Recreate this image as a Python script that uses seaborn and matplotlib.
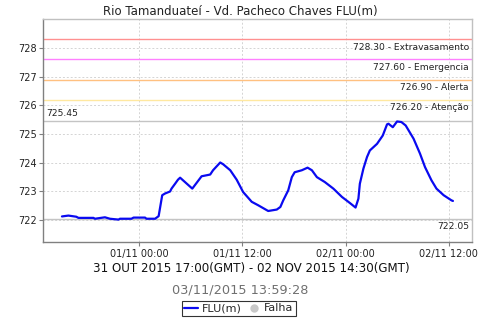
import matplotlib
matplotlib.use("Agg")
import matplotlib.pyplot as plt
import matplotlib.dates as mdates
from matplotlib.lines import Line2D
import seaborn as sns
import pandas as pd

# ---- data ----
times = [
    "2015-10-31 15:00", "2015-10-31 15:45", "2015-10-31 16:40", "2015-10-31 16:55",
    "2015-10-31 18:40", "2015-10-31 18:50", "2015-10-31 20:00", "2015-10-31 20:35",
    "2015-10-31 21:35", "2015-10-31 21:45", "2015-10-31 23:05", "2015-10-31 23:20",
    "2015-11-01 00:40", "2015-11-01 00:50", "2015-11-01 01:50", "2015-11-01 02:15",
    "2015-11-01 02:40", "2015-11-01 03:00", "2015-11-01 03:35", "2015-11-01 03:45",
    "2015-11-01 04:10", "2015-11-01 04:30", "2015-11-01 04:45", "2015-11-01 06:10",
    "2015-11-01 07:15", "2015-11-01 08:15", "2015-11-01 08:35", "2015-11-01 09:25",
    "2015-11-01 09:45", "2015-11-01 10:35", "2015-11-01 11:20", "2015-11-01 12:05",
    "2015-11-01 13:05", "2015-11-01 13:50", "2015-11-01 15:00", "2015-11-01 16:00",
    "2015-11-01 16:25", "2015-11-01 16:45", "2015-11-01 17:20", "2015-11-01 17:45",
    "2015-11-01 18:05", "2015-11-01 18:55", "2015-11-01 19:35", "2015-11-01 20:05",
    "2015-11-01 20:40", "2015-11-01 21:35", "2015-11-01 22:35", "2015-11-01 23:35",
    "2015-11-02 00:30", "2015-11-02 01:10", "2015-11-02 01:30", "2015-11-02 01:40",
    "2015-11-02 02:05", "2015-11-02 02:30", "2015-11-02 02:50", "2015-11-02 03:40",
    "2015-11-02 04:20", "2015-11-02 04:50", "2015-11-02 05:00", "2015-11-02 05:30",
    "2015-11-02 06:00", "2015-11-02 06:30", "2015-11-02 07:00", "2015-11-02 07:55",
    "2015-11-02 08:40", "2015-11-02 09:15", "2015-11-02 10:00", "2015-11-02 10:35",
    "2015-11-02 11:25", "2015-11-02 12:20", "2015-11-02 12:30",
]
flu = [
    722.13, 722.16, 722.12, 722.08,
    722.08, 722.05, 722.10, 722.05,
    722.02, 722.05, 722.05, 722.09,
    722.09, 722.05, 722.05, 722.14,
    722.87, 722.93, 723.00, 723.10,
    723.27, 723.41, 723.48, 723.10,
    723.53, 723.59, 723.74, 724.01,
    723.95, 723.74, 723.41, 722.98,
    722.64, 722.52, 722.32, 722.37,
    722.46, 722.69, 723.04, 723.50,
    723.67, 723.74, 723.83, 723.74,
    723.50, 723.33, 723.10, 722.81,
    722.60, 722.44, 722.75, 723.27,
    723.80, 724.20, 724.43, 724.66,
    724.95, 725.34, 725.36, 725.24,
    725.44, 725.42, 725.30, 724.84,
    724.32, 723.85, 723.39, 723.10,
    722.87, 722.69, 722.67,
]

thresholds = [728.30, 727.60, 726.90, 726.20]
threshold_names = ["Extravasamento", "Emergencia", "Alerta", "Atenção"]
threshold_colors = ["#FF9090", "#FF80FF", "#FFC080", "#FFE8A0"]
max_value = 725.45
min_value = 722.05

tick_times = ["2015-11-01 00:00", "2015-11-01 12:00", "2015-11-02 00:00", "2015-11-02 12:00"]
y_ticks = [722, 723, 724, 725, 726, 727, 728]

title = "Rio Tamanduateí - Vd. Pacheco Chaves FLU(m)"
period = "31 OUT 2015 17:00(GMT) - 02 NOV 2015 14:30(GMT)"
stamp = "03/11/2015 13:59:28"

# ---- plot ----
sns.set_theme(style="white")
plt.rcParams["font.family"] = ["DejaVu Sans"]

df = pd.DataFrame({"time": pd.to_datetime(times), "FLU(m)": flu})

fig = plt.figure(figsize=(4.8, 3.2), dpi=100)
ax = fig.add_axes([0.0906, 0.2447, 0.8927, 0.695])

ax.grid(True, color="#D4D4D4", linestyle=(0, (2, 2)), linewidth=0.7)
ax.set_axisbelow(True)

for v, c in zip(thresholds, threshold_colors):
    ax.axhline(v, color=c, linewidth=1.0, zorder=2)
ax.axhline(max_value, color="#C4C4C4", linewidth=1.0, zorder=2)
ax.axhline(min_value, color="#C4C4C4", linewidth=1.0, zorder=2)

sns.lineplot(data=df, x="time", y="FLU(m)", ax=ax, color="#0A0AF0",
             linewidth=1.6, zorder=3, legend=False)

xmin = pd.Timestamp("2015-10-31 12:51")
xmax = pd.Timestamp("2015-11-02 14:43")
ax.set_xlim(xmin, xmax)
ax.set_ylim(721.25, 729.0)

ax.set_xticks(pd.to_datetime(tick_times))
ax.xaxis.set_major_formatter(mdates.DateFormatter("%d/%m %H:%M"))
ax.set_yticks(y_ticks)
ax.tick_params(axis="both", labelsize=7, length=3, width=0.8, color="#808080",
               labelcolor="#222222", pad=2, direction="out")
ax.tick_params(axis="x", pad=2)
ax.tick_params(left=True, bottom=True)
ax.set_xlabel("")
ax.set_ylabel("")

for side in ["left", "bottom"]:
    ax.spines[side].set_color("#808080")
    ax.spines[side].set_linewidth(1.0)
for side in ["top", "right"]:
    ax.spines[side].set_color("#C0C0C0")
    ax.spines[side].set_linewidth(1.0)

trans = ax.get_yaxis_transform()
for v, n in zip(thresholds, threshold_names):
    ax.text(0.993, v - 0.12, f"{v:.2f} - {n}", transform=trans, ha="right",
            va="top", fontsize=6.6, color="#222222")
ax.text(0.007, max_value + 0.12, f"{max_value:.2f}", transform=trans, ha="left",
        va="bottom", fontsize=6.6, color="#222222")
ax.text(0.993, min_value - 0.12, f"{min_value:.2f}", transform=trans, ha="right",
        va="top", fontsize=6.6, color="#222222")

fig.text(0.5, 0.985, title, ha="center", va="top", fontsize=8.5, color="#222222")
fig.text(0.523, 0.161, period, ha="center", va="center", fontsize=8.6, color="#111111")
fig.text(0.5, 0.094, stamp, ha="center", va="center", fontsize=9.3, color="#707070")

handles = [
    Line2D([0], [0], color="#0A0AF0", linewidth=1.6),
    Line2D([0], [0], color="#C8C8C8", marker="o", linestyle="none", markersize=5),
]
leg = fig.legend(handles, ["FLU(m)", "Falha"], loc="center", bbox_to_anchor=(0.498, 0.036),
                 ncol=2, fontsize=8, frameon=True, fancybox=False, handlelength=1.25,
                 handletextpad=0.3, columnspacing=0.5, borderpad=0.2, borderaxespad=0)
leg.get_frame().set_edgecolor("#000000")
leg.get_frame().set_linewidth(0.8)

fig.savefig("out.png", dpi=100)
